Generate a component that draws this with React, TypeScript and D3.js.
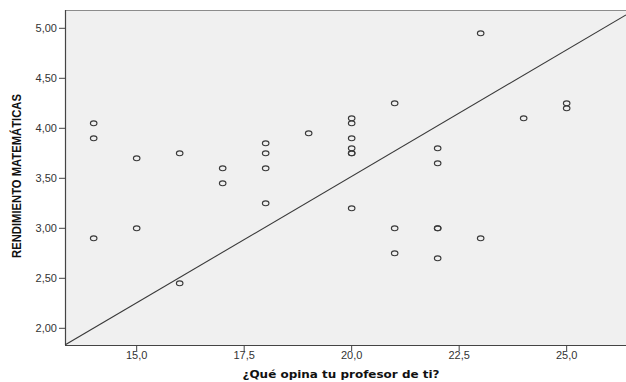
import React from "react";
import * as d3 from "d3";

// Teacher-opinion score (x) and maths performance (y) per student
const opinionScores = [
  14, 14, 14,
  15, 15,
  16, 16,
  17, 17,
  18, 18, 18, 18,
  19,
  20, 20, 20, 20, 20, 20, 20,
  21, 21, 21,
  22, 22, 22, 22, 22,
  23, 23,
  24,
  25, 25,
];
const mathScores = [
  4.05, 3.9, 2.9,
  3.7, 3.0,
  3.75, 2.45,
  3.6, 3.45,
  3.85, 3.75, 3.6, 3.25,
  3.95,
  4.1, 4.05, 3.9, 3.8, 3.75, 3.75, 3.2,
  4.25, 3.0, 2.75,
  3.8, 3.65, 3.0, 3.0, 2.7,
  4.95, 2.9,
  4.1,
  4.25, 4.2,
];

const xTicks = [15, 17.5, 20, 22.5, 25];
const yTicks = [2, 2.5, 3, 3.5, 4, 4.5, 5];

// Reference line: y = slope * x + intercept
const lineSlope = 0.253;
const lineIntercept = -1.54;

const W = 626;
const H = 382;
const plot = { left: 65, top: 10, right: 626, bottom: 345 };

const xDomain: [number, number] = [13.333, 26.38];
const yDomain: [number, number] = [1.833, 5.183];

export default function App() {
  const x = d3.scaleLinear().domain(xDomain).range([plot.left, plot.right]);
  const y = d3.scaleLinear().domain(yDomain).range([plot.bottom, plot.top]);

  const fmt1 = (v: number) => d3.format(".1f")(v).replace(".", ",");
  const fmt2 = (v: number) => d3.format(".2f")(v).replace(".", ",");

  const linePath = d3.line<number>()
    .x((d) => x(d))
    .y((d) => y(lineSlope * d + lineIntercept))(xDomain) as string;

  const tickFont = "'Liberation Sans', Arial, sans-serif";

  return (
    <div style={{ position: "absolute", left: 0, top: 0 }}>
      <svg width={W} height={H} style={{ display: "block", background: "#fff" }}>
        <defs>
          <clipPath id="plotClip">
            <rect x={plot.left} y={plot.top} width={plot.right - plot.left} height={plot.bottom - plot.top} />
          </clipPath>
        </defs>
        <rect
          x={plot.left}
          y={plot.top}
          width={plot.right - plot.left}
          height={plot.bottom - plot.top}
          fill="#f0f0f0"
        />
        {/* frame */}
        <line x1={plot.left} x2={plot.right} y1={plot.top + 0.5} y2={plot.top + 0.5} stroke="#8c8c8c" strokeWidth={1.2} />
        <line x1={plot.left + 0.5} x2={plot.left + 0.5} y1={plot.top} y2={plot.bottom} stroke="#444" strokeWidth={1.2} />
        <line x1={plot.left} x2={plot.right} y1={plot.bottom + 0.5} y2={plot.bottom + 0.5} stroke="#444" strokeWidth={1.2} />

        <g clipPath="url(#plotClip)">
          <path d={linePath} fill="none" stroke="#3a3a3a" strokeWidth={1.1} />
          {opinionScores.map((v, i) => (
            <ellipse
              key={i}
              cx={x(v)}
              cy={y(mathScores[i])}
              rx={3.3}
              ry={2.4}
              fill="none"
              stroke="#3a3a3a"
              strokeWidth={1.1}
            />
          ))}
        </g>

        {/* y axis */}
        {yTicks.map((t) => (
          <g key={t}>
            <line x1={plot.left - 6} x2={plot.left} y1={y(t)} y2={y(t)} stroke="#444" strokeWidth={1} />
            <text
              x={plot.left - 8}
              y={y(t)}
              dy="0.35em"
              textAnchor="end"
              fontFamily={tickFont}
              fontSize={11}
              fill="#333"
            >
              {fmt2(t)}
            </text>
          </g>
        ))}

        {/* x axis */}
        {xTicks.map((t) => (
          <g key={t}>
            <line x1={x(t)} x2={x(t)} y1={plot.bottom} y2={plot.bottom + 6} stroke="#444" strokeWidth={1} />
            <text
              x={x(t)}
              y={plot.bottom + 14}
              textAnchor="middle"
              fontFamily={tickFont}
              fontSize={11}
              fill="#333"
            >
              {fmt1(t)}
            </text>
          </g>
        ))}

        <text
          x={341}
          y={378}
          textAnchor="middle"
          fontFamily="'DejaVu Sans', Verdana, sans-serif"
          fontWeight="bold"
          fontSize={11}
          fill="#111"
          textLength={197}
          lengthAdjust="spacingAndGlyphs"
        >
          ¿Qué opina tu profesor de ti?
        </text>

        <text
          transform={`translate(21,176) rotate(-90)`}
          textAnchor="middle"
          fontFamily="'Liberation Sans Narrow', 'Liberation Sans', Arial, sans-serif"
          fontWeight="bold"
          fontSize={12}
          fill="#111"
          textLength={164}
          lengthAdjust="spacingAndGlyphs"
        >
          RENDIMIENTO MATEMÁTICAS
        </text>
      </svg>
    </div>
  );
}
